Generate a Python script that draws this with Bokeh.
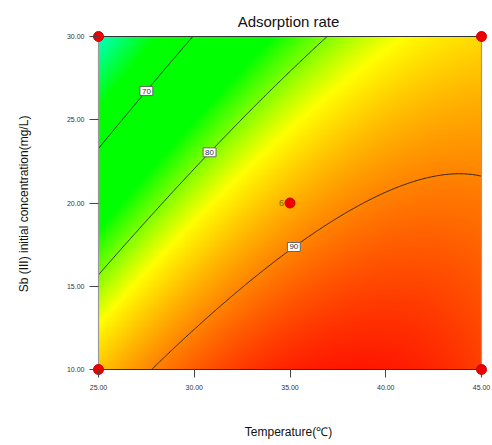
import numpy as np
from bokeh.plotting import figure
from bokeh.models import Range1d, PrintfTickFormatter
from bokeh.embed import file_html
from bokeh.resources import INLINE
from bokeh.core.properties import value

FONT = "Liberation Sans"

temp_ticks = [25, 30, 35, 40, 45]
conc_ticks = [10, 15, 20, 25, 30]

design_temp = [25, 45, 25, 45, 35]
design_conc = [10, 10, 30, 30, 20]
center_reps = "6"

# quadratic response model in coded units x1=(T-35)/10, x2=(C-20)/10
# terms: intercept, x1, x2, x1*x2, x1^2, x2^2  (estimated from the contour lines)
model_terms = ["1", "A", "B", "AB", "A2", "B2"]
model_coef = [87.63, 8.11, -8.73, 4.57, -5.04, -1.17]

levels = [70, 80, 90]
label_temp = [27.5, 30.8, 35.2]


def model(t, c):
    x1 = (np.asarray(t, float) - 35.0) / 10.0
    x2 = (np.asarray(c, float) - 20.0) / 10.0
    b0, b1, b2, b12, b11, b22 = model_coef
    return b0 + b1 * x1 + b2 * x2 + b12 * x1 * x2 + b11 * x1 ** 2 + b22 * x2 ** 2


nx = ny = 300
tg = np.linspace(temp_ticks[0], temp_ticks[-1], nx)
cg = np.linspace(conc_ticks[0], conc_ticks[-1], ny)
TT, CC = np.meshgrid(tg, cg)
Z = model(TT, CC)

stop_v = [58, 66.5, 76.5, 83.5, 97]
stop_r = [0, 0, 0, 255, 255]
stop_g = [255, 255, 255, 255, 0]
stop_b = [255, 0, 0, 0, 0]
img = np.empty((ny, nx), dtype=np.uint32)
view = img.view(dtype=np.uint8).reshape((ny, nx, 4))
view[:, :, 0] = np.interp(Z, stop_v, stop_r).astype(np.uint8)
view[:, :, 1] = np.interp(Z, stop_v, stop_g).astype(np.uint8)
view[:, :, 2] = np.interp(Z, stop_v, stop_b).astype(np.uint8)
view[:, :, 3] = 255

xpx = 383 / 20.0
ypx = 333 / 20.0
p = figure(width=492, height=445, output_backend="svg", toolbar_location=None,
           x_range=Range1d(temp_ticks[0] - 9 / xpx, temp_ticks[-1] + 6 / xpx),
           y_range=Range1d(conc_ticks[0] - 8 / ypx, conc_ticks[-1] + 6 / ypx),
           min_border_left=89, min_border_right=5, min_border_top=30, min_border_bottom=68,
           title="Adsorption rate")
p.outline_line_color = None
p.grid.visible = False
p.title.text_font = FONT
p.title.text_font_size = "15px"
p.title.text_font_style = "normal"
p.title.text_color = "#111111"
p.title.align = "center"
p.title.standoff = 2

p.image_rgba(image=[img], x=temp_ticks[0], y=conc_ticks[0],
             dw=temp_ticks[-1] - temp_ticks[0], dh=conc_ticks[-1] - conc_ticks[0])
p.contour(x=tg, y=cg, z=Z, levels=levels, line_color="#1a1a1a", line_width=0.9)

t0, t1, c0, c1 = temp_ticks[0], temp_ticks[-1], conc_ticks[0], conc_ticks[-1]
p.multi_line(xs=[[t0, t0], [t1, t1]], ys=[[c0, c1], [c0, c1]], line_color="#999999", line_width=1.2)
p.multi_line(xs=[[t0, t1], [t0, t1]], ys=[[c0, c0], [c1, c1]], line_color="#333333", line_width=1.2)

# contour labels, placed where each level crosses the chosen temperature
lab_c = []
for lv, lt in zip(levels, label_temp):
    vals = model(np.full_like(cg, lt), cg)
    lab_c.append(cg[np.argmin(np.abs(vals - lv))])
p.text(x=label_temp, y=lab_c, text=[str(v) for v in levels], text_font=value(FONT),
       text_font_size="8px", text_align="center", text_baseline="middle", text_color="#333333",
       background_fill_color="white", border_line_color="#666666", padding=2)

p.scatter(design_temp, design_conc, size=10, fill_color="#ee0000", line_color="#cc0000")
p.text(x=[design_temp[4]], y=[design_conc[4]], text=[center_reps], x_offset=-6,
       text_align="right", text_baseline="middle", text_font=value(FONT),
       text_font_size="9px", text_color="#806400")

for ax, tk in ((p.xaxis, temp_ticks), (p.yaxis, conc_ticks)):
    ax.ticker = tk
    ax.formatter = PrintfTickFormatter(format="%.2f")
    ax.axis_line_color = None
    ax.major_tick_out = 0
    ax.minor_tick_line_color = None
    ax.major_tick_line_color = "#444444"
    ax.major_label_text_font = FONT
    ax.major_label_text_font_size = "7px"
    ax.major_label_text_color = "#333333"
    ax.axis_label_text_font = FONT
    ax.axis_label_text_font_size = "12px"
    ax.axis_label_text_font_style = "normal"
    ax.axis_label_text_color = "#111111"
p.xaxis.major_tick_in = 8
p.yaxis.major_tick_in = 9
p.xaxis.major_label_standoff = 7
p.yaxis.major_label_standoff = 5
p.xaxis.axis_label = "Temperature(℃)"
p.yaxis.axis_label = "Sb (III) initial concentration(mg/L)"
p.xaxis.axis_label_standoff = 32
p.yaxis.axis_label_standoff = 33

open("out.html", "w").write(file_html(p, INLINE))
